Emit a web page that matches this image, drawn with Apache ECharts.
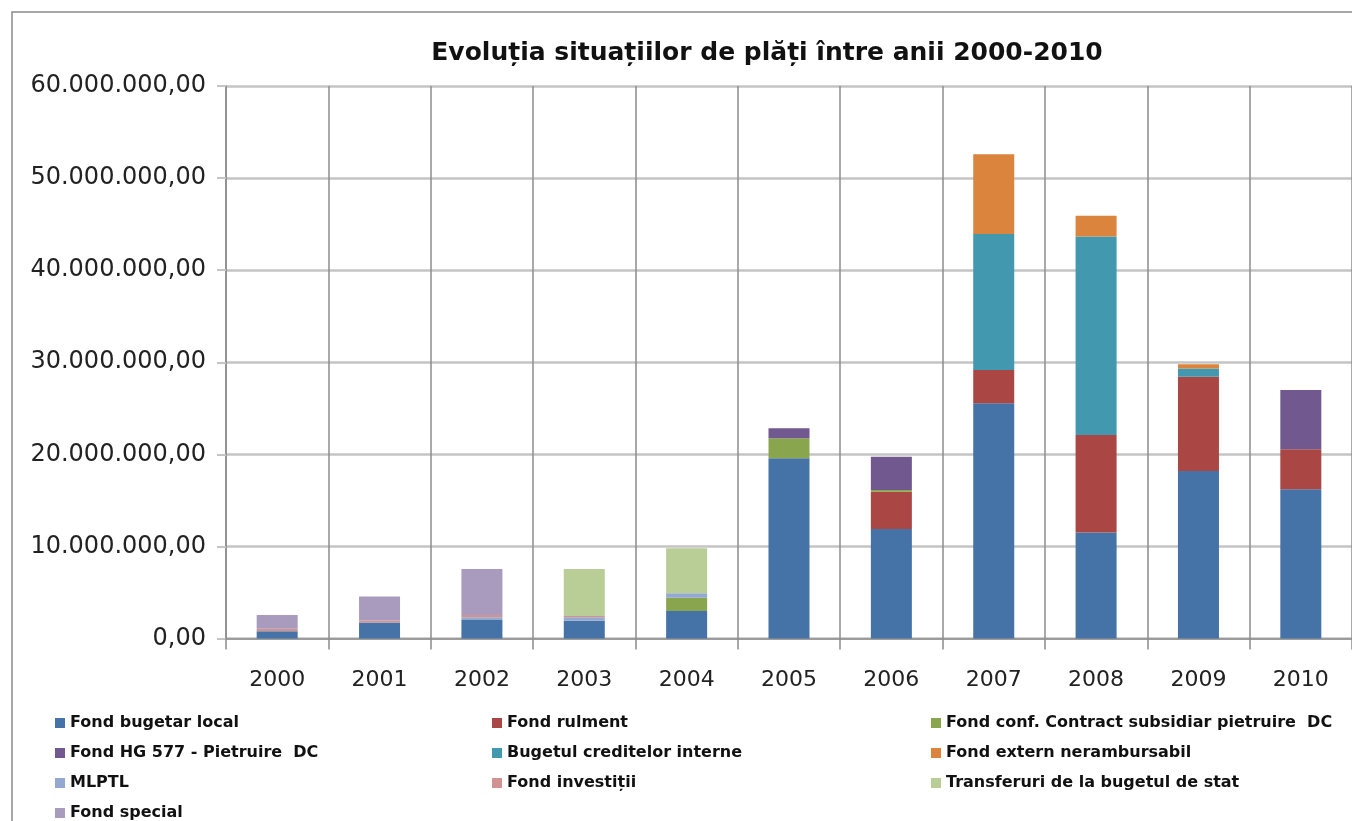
<!DOCTYPE html>
<html>
<head>
<meta charset="utf-8">
<script src="https://cdn.jsdelivr.net/npm/echarts@6/dist/echarts.min.js"></script>
<style>
  html, body { margin: 0; padding: 0; background: #fff; }
  #chart { width: 1352px; height: 821px; }
</style>
</head>
<body>
<div id="chart"></div>
<script>
// Payment situations by funding source, 2000-2010 (lei)
const years = ['2000', '2001', '2002', '2003', '2004', '2005', '2006', '2007', '2008', '2009', '2010'];
const yTicks = [0, 10000000, 20000000, 30000000, 40000000, 50000000, 60000000];

const fondBugetarLocal = [800000, 1750000, 2000000, 1930000, 3000000, 19570000, 11900000, 25550000, 11500000, 18200000, 16200000];
const fondRulment = [0, 0, 0, 0, 0, 0, 4050000, 3600000, 10600000, 10230000, 4350000];
const fondConfContract = [0, 0, 0, 0, 1430000, 2170000, 180000, 0, 0, 0, 0];
const fondHG577 = [0, 0, 0, 0, 0, 1090000, 3600000, 0, 0, 0, 6450000];
const bugetulCreditelor = [0, 0, 0, 0, 0, 0, 0, 14780000, 21550000, 900000, 0];
const fondExtern = [0, 0, 0, 0, 0, 0, 0, 8650000, 2250000, 450000, 0];
const mlptl = [0, 0, 300000, 370000, 480000, 0, 0, 0, 0, 0, 0];
const fondInvestitii = [250000, 200000, 250000, 150000, 0, 0, 0, 0, 0, 0, 0];
const transferuri = [0, 0, 0, 5100000, 4890000, 0, 0, 0, 0, 0, 0];
const fondSpecial = [1500000, 2600000, 5000000, 0, 0, 0, 0, 0, 0, 0, 0];

const seriesDefs = [
  { name: 'Fond bugetar local', data: fondBugetarLocal, color: '#4572A7' },
  { name: 'Fond rulment', data: fondRulment, color: '#AA4643' },
  { name: 'Fond conf. Contract subsidiar pietruire  DC', data: fondConfContract, color: '#89A54E' },
  { name: 'Fond HG 577 - Pietruire  DC', data: fondHG577, color: '#71588F' },
  { name: 'Bugetul creditelor interne', data: bugetulCreditelor, color: '#4198AF' },
  { name: 'Fond extern nerambursabil', data: fondExtern, color: '#DB843D' },
  { name: 'MLPTL', data: mlptl, color: '#93A9CF' },
  { name: 'Fond investiții', data: fondInvestitii, color: '#D19392' },
  { name: 'Transferuri de la bugetul de stat', data: transferuri, color: '#B9CD96' },
  { name: 'Fond special', data: fondSpecial, color: '#A99BBD' }
];

// Romanian number format: 60.000.000,00
function fmtRo(v) {
  const s = Math.round(v).toString().replace(/\B(?=(\d{3})+(?!\d))/g, '.');
  return s + ',00';
}

const legendBase = {
  orient: 'vertical',
  itemWidth: 10,
  itemHeight: 10,
  itemGap: 14,
  icon: 'rect',
  padding: 0,
  height: 140,
  selectedMode: false,
  textStyle: { fontFamily: 'DejaVu Sans', fontWeight: 'bold', fontSize: 16, color: '#111' }
};

const chart = echarts.init(document.getElementById('chart'), null, { renderer: 'canvas' });
chart.setOption({
  animation: false,
  backgroundColor: '#fff',
  title: {
    text: 'Evoluția situațiilor de plăți între anii 2000-2010',
    left: 762,
    top: 36,
    textAlign: 'center',
    textStyle: { fontFamily: 'DejaVu Sans', fontWeight: 'bold', fontSize: 25, color: '#111' }
  },
  graphic: [{
    type: 'rect',
    shape: { x: 12, y: 12, width: 1400, height: 900 },
    style: { fill: 'none', stroke: '#8a8a8a', lineWidth: 1.5 },
    silent: true,
    z: -1
  }],
  legend: [
    Object.assign({}, legendBase, { left: 55, top: 715, data: [seriesDefs[0].name, seriesDefs[3].name, seriesDefs[6].name, seriesDefs[9].name] }),
    Object.assign({}, legendBase, { left: 492, top: 715, data: [seriesDefs[1].name, seriesDefs[4].name, seriesDefs[7].name] }),
    Object.assign({}, legendBase, { left: 931, top: 715, data: [seriesDefs[2].name, seriesDefs[5].name, seriesDefs[8].name] })
  ],
  grid: { left: 226, right: -9, top: 86, bottom: 182.5, containLabel: false },
  xAxis: {
    type: 'category',
    data: years,
    boundaryGap: true,
    axisLine: { show: true, lineStyle: { color: '#8c8c8c', width: 1.5 } },
    axisTick: { show: true, length: 11, lineStyle: { color: '#8c8c8c', width: 1.5 } },
    splitLine: { show: true, lineStyle: { color: '#8c8c8c', width: 1.5 } },
    axisLabel: { margin: 31, fontFamily: 'DejaVu Sans', fontSize: 22, color: '#222' }
  },
  yAxis: {
    type: 'value',
    min: yTicks[0],
    max: yTicks[yTicks.length - 1],
    interval: yTicks[1] - yTicks[0],
    axisLine: { show: true, lineStyle: { color: '#8c8c8c', width: 1.5 } },
    axisTick: { show: true, length: 9, lineStyle: { color: '#c4c4c4', width: 2 } },
    splitLine: { show: true, lineStyle: { color: '#c4c4c4', width: 2.5 } },
    axisLabel: { margin: 20, fontFamily: 'DejaVu Sans', fontSize: 24, color: '#222', formatter: fmtRo }
  },
  series: seriesDefs.map(d => ({
    name: d.name,
    type: 'bar',
    stack: 'total',
    barWidth: 41,
    data: d.data,
    itemStyle: { color: d.color },
    emphasis: { disabled: true }
  }))
});
</script>
</body>
</html>
